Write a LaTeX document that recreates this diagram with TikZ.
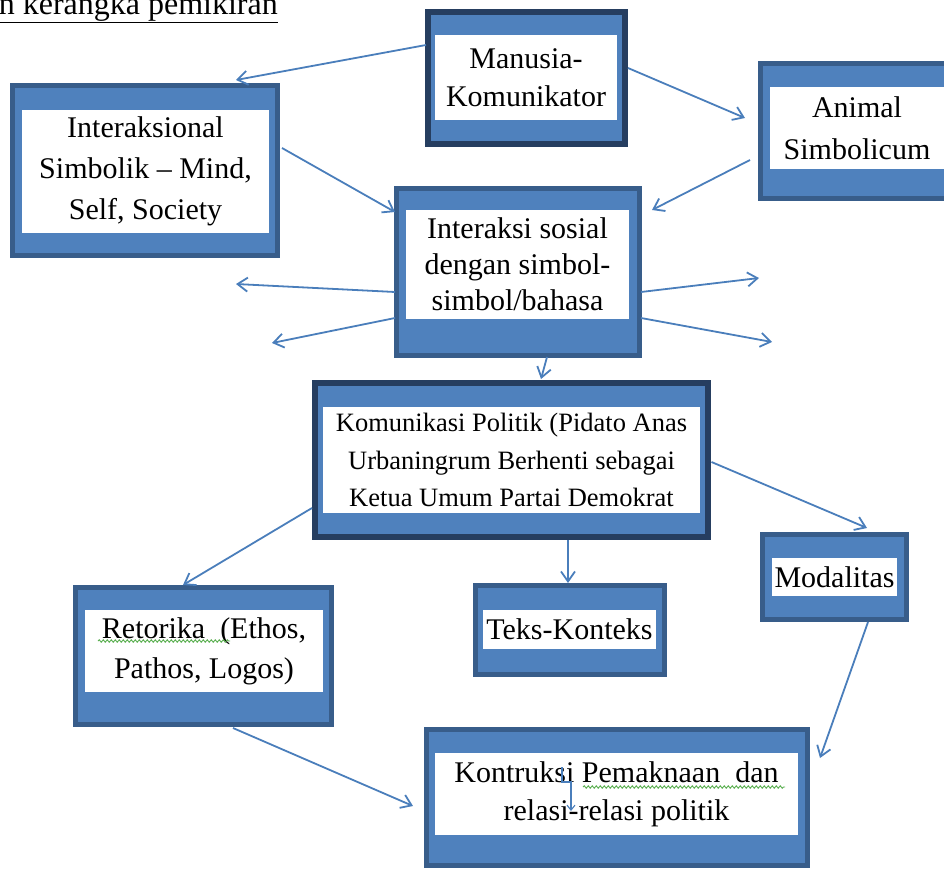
\documentclass[tikz,border=0pt]{standalone}
\usepackage{fontspec}
\setmainfont{Liberation Serif}
\usetikzlibrary{arrows.meta,positioning,calc,decorations.pathmorphing}
\definecolor{frameblue}{RGB}{79,129,189}
\definecolor{framedark}{RGB}{56,93,138}
\definecolor{framenavy}{RGB}{38,62,96}
\definecolor{arrowblue}{RGB}{74,126,187}
\definecolor{spellgreen}{RGB}{90,175,80}

\begin{document}
\begin{tikzpicture}[
    x=1pt, y=-1pt,
    >={Straight Barb[length=10pt,width=14pt]},
    boxframe/.style={draw=framedark, fill=frameblue, line width=5pt, inner sep=0pt, outer sep=0pt},
    boldframe/.style={boxframe, draw=framenavy, line width=6pt},
    boxtext/.style={fill=white, inner sep=0pt, align=center, font=\fontsize{30}{38}\selectfont},
    link/.style={->, draw=arrowblue, line width=1.8pt},
    spell/.style={draw=spellgreen, line width=0.9pt, decorate, decoration={snake, amplitude=1.2pt, segment length=4pt}}
]
\useasboundingbox (0,0) rectangle (944,870);

% Title (cut at the top)
\node[anchor=base east, inner sep=0pt, font=\fontsize{32}{38}\selectfont] (title) at (278,14) {\underline{Bagan kerangka pemikiran}};

% Frames
\node[boldframe, minimum width=197, minimum height=132] (manusia) at (526.5,78) {};
\node[boxframe, minimum width=193, minimum height=135] (animal) at (857,131) {};
\node[boxframe, minimum width=265, minimum height=170] (inter) at (145,170.5) {};
\node[boxframe, minimum width=243, minimum height=167] (sosial) at (518,272) {};
\node[boldframe, minimum width=393, minimum height=154] (politik) at (511.5,460) {};
\node[boxframe, minimum width=256, minimum height=137] (retorika) at (203.5,656) {};
\node[boxframe, minimum width=189, minimum height=89] (teks) at (570,630) {};
\node[boxframe, minimum width=144, minimum height=85] (modal) at (834.5,577) {};
\node[boxframe, minimum width=381, minimum height=136] (kontruksi) at (617,797.5) {};

% Texts
\node[boxtext, minimum width=182, minimum height=85] (manusia_txt) at (526,77.5) {Manusia-\\Komunikator};
\node[boxtext, minimum width=174, minimum height=82, font=\fontsize{30}{42}\selectfont] (animal_txt) at (857,128) {Animal\\Simbolicum};
\node[boxtext, minimum width=247, minimum height=123, font=\fontsize{30}{41}\selectfont] (inter_txt) at (145.5,171.5) {Interaksional\\Simbolik -- Mind,\\Self, Society};
\node[boxtext, minimum width=223, minimum height=109, font=\fontsize{30}{36}\selectfont] (sosial_txt) at (517.5,264.5) {Interaksi sosial\\dengan simbol-\\simbol/bahasa};
\node[boxtext, minimum width=377, minimum height=106, font=\fontsize{26.5}{37.5}\selectfont] (politik_txt) at (511.5,460) {Komunikasi Politik (Pidato Anas\\Urbaningrum Berhenti sebagai\\Ketua Umum Partai Demokrat};
\node[boxtext, minimum width=238, minimum height=82, font=\fontsize{30}{40}\selectfont] (retorika_txt) at (204,651) {Retorika\ \ (Ethos,\\Pathos, Logos)};
\node[boxtext, minimum width=173, minimum height=39] (teks_txt) at (569.5,629.5) {Teks-Konteks};
\node[boxtext, minimum width=125, minimum height=38] (modal_txt) at (834.5,577) {Modalitas};
\node[boxtext, minimum width=363, minimum height=82] (kontruksi_txt) at (616.5,794) {Kontruksi Pemaknaan\ \ dan\\relasi-relasi politik};

% Spelling marks
\draw[spell] ([shift={(-106,-10)}]retorika_txt.center) -- ([shift={(26,-10)}]retorika_txt.center);
\draw[spell] ([shift={(-33.5,-7)}]kontruksi_txt.center) -- ([shift={(168.5,-7)}]kontruksi_txt.center);

% Small marker inside the last box
\draw[->, draw=arrowblue, line width=1.1pt, >={Straight Barb[length=5pt,width=8pt]}]
    ([shift={(-54.5,-27)}]kontruksi_txt.center) |- ([shift={(-45.5,-12)}]kontruksi_txt.center)
    -- ([shift={(-45.5,17)}]kontruksi_txt.center);

% Free ends
\coordinate (out_w1) at (236,284);
\coordinate (out_w2) at (272,343);
\coordinate (out_e1) at (759,278);
\coordinate (out_e2) at (772,342);

% Connections
\draw[link] ([shift={(-2,-33)}]manusia.west) -- ([shift={(91,-5.5)}]inter.north);
\draw[link] ([shift={(3,-10)}]manusia.east) -- ([shift={(-15.5,-13)}]animal.west);
\draw[link] ([shift={(4.5,-22.5)}]inter.east) -- ([shift={(-1.5,-60)}]sosial.west);
\draw[link] ([shift={(-10.5,29)}]animal.west) -- ([shift={(12.5,-62)}]sosial.east);

\draw[link] ([shift={(-1.5,20)}]sosial.west) -- (out_w1);
\draw[link] ([shift={(-1.5,46)}]sosial.west) -- (out_w2);
\draw[link] ([shift={(1.5,20)}]sosial.east) -- (out_e1);
\draw[link] ([shift={(1.5,46)}]sosial.east) -- (out_e2);

\draw[link] ([shift={(29,1.5)}]sosial.south) -- ([shift={(29.5,-4)}]politik.north);

\draw[link] ([shift={(-3,48)}]politik.west) -- ([shift={(-20.5,-2.5)}]retorika.north);
\draw[link] ([shift={(56.5,3)}]politik.south) -- ([shift={(-2,-2.5)}]teks.north);
\draw[link] ([shift={(3.5,2)}]politik.east) -- ([shift={(32.5,-6.5)}]modal.north);

\draw[link] ([shift={(33.5,2.5)}]modal.south) -- ([shift={(12.5,-39.5)}]kontruksi.east);
\draw[link] ([shift={(29.5,3.5)}]retorika.south) -- ([shift={(-13.5,8.5)}]kontruksi.west);

\end{tikzpicture}
\end{document}
